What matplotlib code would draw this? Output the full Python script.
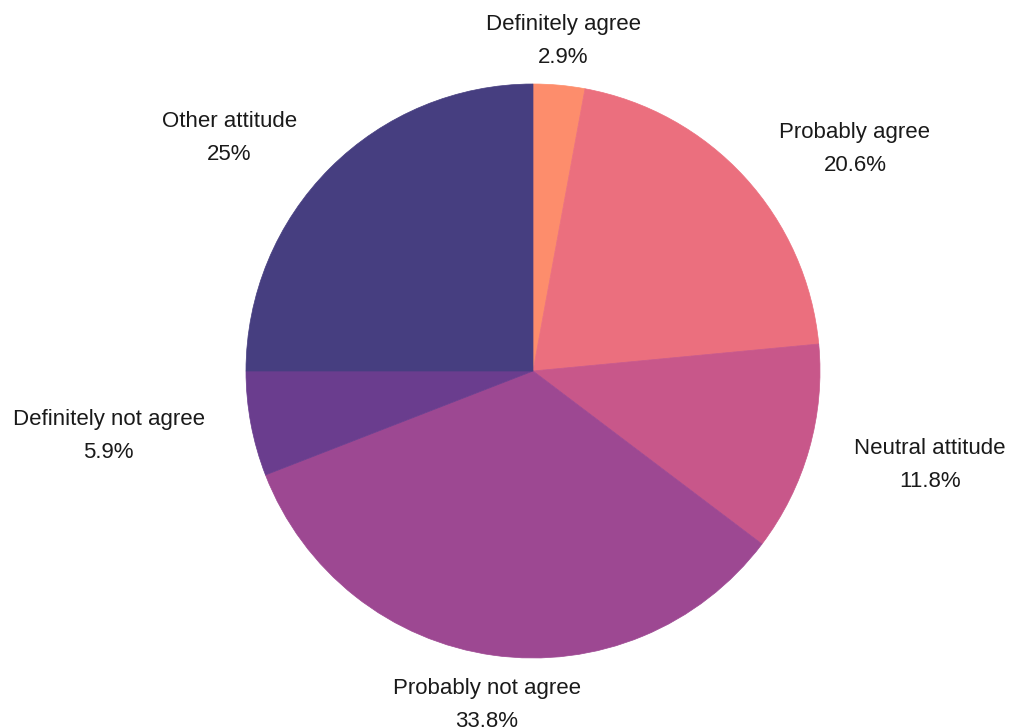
import numpy as np
import matplotlib
matplotlib.use("Agg")
import matplotlib.pyplot as plt

plt.rcParams['font.family'] = ['Liberation Sans', 'DejaVu Sans']

labels = ["Definitely agree", "Probably agree", "Neutral attitude",
          "Probably not agree", "Definitely not agree", "Other attitude"]
values = [2.9, 20.6, 11.8, 33.8, 5.9, 25]
pct_text = ["2.9%", "20.6%", "11.8%", "33.8%", "5.9%", "25%"]
colors = ["#fd8d6c", "#eb6f7e", "#c8578a", "#9d4892", "#6a3d8e", "#463e80"]

fig = plt.figure(figsize=(10.11, 7.28), dpi=100)
# axes sized so the pie radius comes out ~287 px, centred at (533, 371)
ax = fig.add_axes([(533 - 287) / 1011, (728 - 371 - 287) / 728, 574 / 1011, 574 / 728])
wedges, _ = ax.pie(values, colors=colors, startangle=90, counterclock=False,
                   radius=1, wedgeprops=dict(linewidth=0.5))
for w, c in zip(wedges, colors):
    w.set_edgecolor(c)
ax.set_xlim(-1, 1)
ax.set_ylim(-1, 1)
ax.set_aspect('equal')

# labels outside each slice
for w, lab, pct in zip(wedges, labels, pct_text):
    ang = np.deg2rad((w.theta1 + w.theta2) / 2)
    x, y = 1.164 * np.cos(ang), 1.164 * np.sin(ang) - 0.011
    if np.cos(ang) > 0.3:
        ha = 'left'
    elif np.cos(ang) < -0.3:
        ha = 'right'
    else:
        ha = 'center'
    ax.text(x, y, lab + "\n" + pct, ha=ha, va='center', multialignment='center',
            fontsize=16, color='#1a1a1a', linespacing=1.75, clip_on=False)

fig.savefig("out.png", dpi=100)
